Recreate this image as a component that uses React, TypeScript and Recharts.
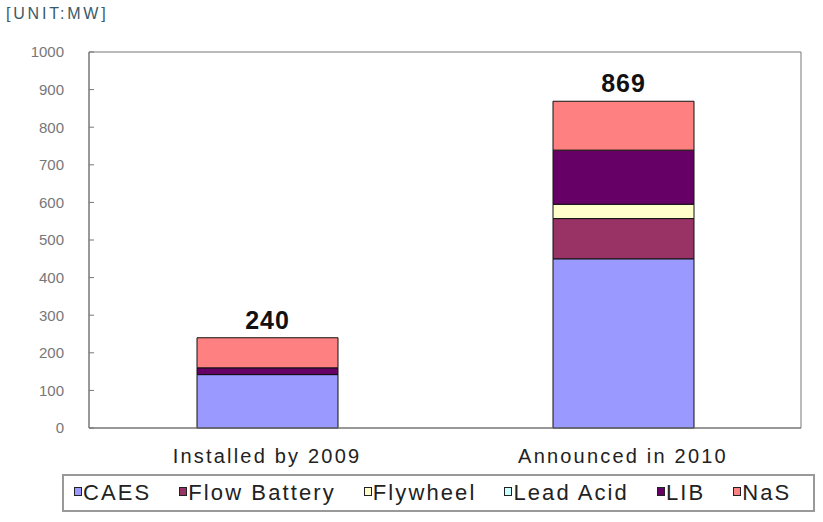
import React from 'react';
import { BarChart, Bar, XAxis, YAxis, Legend, LabelList, ReferenceArea } from 'recharts';

const categories = ['Installed by 2009', 'Announced in 2010'];
const caes = [142, 450];
const flowBattery = [0, 107];
const flywheel = [0, 38];
const leadAcid = [0, 0];
const lib = [18, 144];
const nas = [80, 130];
const totals = [240, 869];
const yTicks = [0, 100, 200, 300, 400, 500, 600, 700, 800, 900, 1000];

const seriesNames = ['CAES', 'Flow Battery', 'Flywheel', 'Lead Acid', 'LIB', 'NaS'];
const seriesKeys = ['caes', 'flow', 'fly', 'lead', 'lib', 'nas'];
const colors = ['#9999FF', '#993366', '#FFFFCC', '#CCFFFF', '#660066', '#FF8080'];

const data = categories.map((c, i) => ({
  name: c,
  caes: caes[i],
  flow: flowBattery[i],
  fly: flywheel[i],
  lead: leadAcid[i],
  lib: lib[i],
  nas: nas[i],
  total: totals[i],
}));

const XTick = (props: any) => {
  const { x, y, payload } = props;
  return (
    <text x={x} y={y} dy={27} textAnchor="middle" fill="#222" fontSize={20} letterSpacing={2.2} fontFamily="'Liberation Sans', Arial, sans-serif">
      {payload.value}
    </text>
  );
};

const LegendContent = () => (
  <div
    style={{
      boxSizing: 'border-box',
      width: 753,
      height: 38,
      border: '2px solid #999',
      display: 'flex',
      alignItems: 'center',
      paddingLeft: 10,
      fontFamily: "'Liberation Sans', Arial, sans-serif",
      fontSize: 22,
      color: '#222',
      letterSpacing: 2.1,
      whiteSpace: 'nowrap',
      overflow: 'hidden',
    }}
  >
    {seriesNames.map((n, i) => (
      <div key={n} style={{ display: 'flex', alignItems: 'center', marginRight: 28, flexShrink: 0, whiteSpace: 'nowrap' }}>
        <span
          style={{
            display: 'inline-block',
            width: 6,
            height: 7,
            background: colors[i],
            border: '1px solid #222',
            marginRight: 1,
            marginTop: -4,
          }}
        />
        <span>{n}</span>
      </div>
    ))}
  </div>
);

export default function App() {
  return (
    <div style={{ position: 'absolute', left: 0, top: 0, width: 823, height: 522, background: '#fff' }}>
      <div
        style={{
          position: 'absolute',
          left: 6,
          top: 5,
          fontSize: 16,
          letterSpacing: 2.8,
          color: '#3a5a6a',
          fontFamily: "'Liberation Sans', Arial, sans-serif",
          zIndex: 2,
        }}
      >
        [UNIT:MW]
      </div>
      <BarChart
        width={823}
        height={522}
        data={data}
        margin={{ top: 52, right: 22, bottom: 16, left: 0 }}
        barCategoryGap="30%"
      >
        <XAxis
          dataKey="name"
          tick={<XTick />}
          tickLine={false}
          axisLine={{ stroke: '#777' }}
          height={40}
        />
        <YAxis
          domain={[0, 1000]}
          ticks={yTicks}
          tick={{ fill: '#777', fontSize: 15, fontFamily: "'Liberation Sans', Arial, sans-serif" }}
          tickLine={{ stroke: '#777' }}
          tickSize={-5}
          tickMargin={30}
          axisLine={{ stroke: '#777' }}
          width={89}
          interval={0}
        />
        <ReferenceArea y1={0} y2={1000} fill="none" stroke="#777" strokeWidth={1} ifOverflow="visible" />
        <Legend
          verticalAlign="bottom"
          content={<LegendContent />}
          wrapperStyle={{ left: 62, top: 474, width: 753, height: 38 }}
        />
        {seriesKeys.map((k, i) => (
          <Bar key={k} dataKey={k} name={seriesNames[i]} stackId="a" fill={colors[i]} stroke="#111" strokeWidth={1} isAnimationActive={false} barSize={141}>
            {k === 'nas' && (
              <LabelList
                dataKey="total"
                position="top"
                offset={9}
                fill="#111"
                fontSize={25}
                fontWeight="bold"
                letterSpacing={1}
                fontFamily="'Liberation Sans', Arial, sans-serif"
              />
            )}
          </Bar>
        ))}
      </BarChart>
    </div>
  );
}
